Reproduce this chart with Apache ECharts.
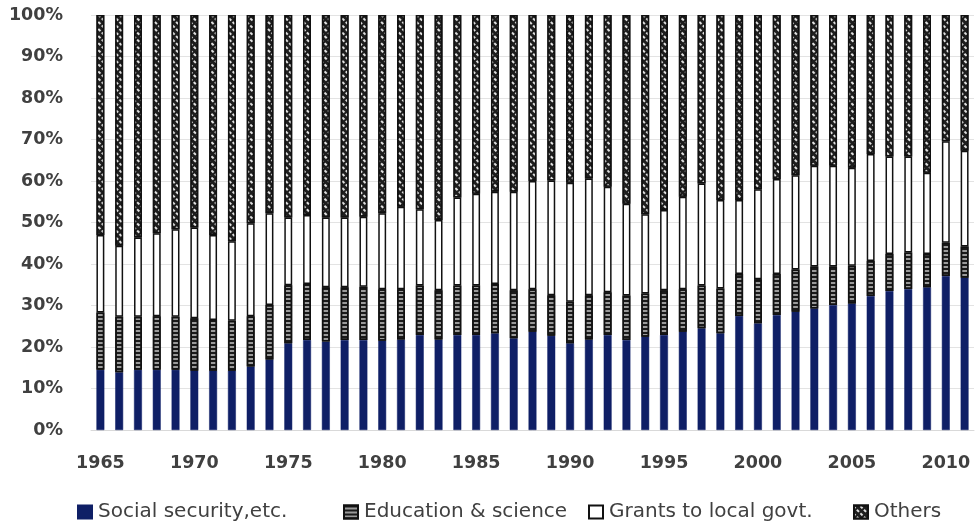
<!DOCTYPE html>
<html>
<head>
<meta charset="utf-8">
<script src="https://cdn.jsdelivr.net/npm/echarts@6/dist/echarts.min.js"></script>
<style>
  html, body { margin: 0; padding: 0; background: #fff; }
  #chart { width: 976px; height: 525px; }
</style>
</head>
<body>
<div id="chart"></div>
<script>
// Composition of general account expenditure, shares in percent (1965-2011)
const years = [];
for (let y = 1965; y <= 2011; y++) years.push(String(y));

const socialSecurity = [
  14.5, 13.9, 14.5, 14.5, 14.5, 14.3, 14.3, 14.3, 15.3, 17.0,
  20.9, 21.7, 21.3, 21.7, 21.7, 21.5, 21.8, 22.9, 21.8, 22.9,
  22.9, 23.3, 22.1, 23.7, 22.7, 20.9, 21.8, 22.9, 21.7, 22.5,
  22.9, 23.7, 24.5, 23.3, 27.5, 25.7, 27.7, 28.5, 29.3, 30.1,
  30.5, 32.3, 33.5, 34.0, 34.4, 37.1, 36.7
];
const education = [
  13.8, 13.4, 12.8, 12.9, 12.8, 12.6, 12.2, 12.0, 12.1, 13.1,
  14.0, 13.5, 13.1, 12.7, 12.8, 12.4, 12.1, 11.9, 11.9, 11.9,
  11.9, 11.9, 11.6, 10.2, 9.8, 10.0, 10.7, 10.3, 10.7, 10.4,
  10.8, 10.2, 10.3, 10.8, 10.1, 10.6, 9.9, 10.2, 10.1, 9.3,
  9.1, 8.4, 8.9, 8.8, 8.0, 8.0, 7.5
];
const grants = [
  18.7, 17.1, 19.1, 20.0, 21.1, 21.9, 20.5, 19.2, 22.4, 22.1,
  16.3, 16.6, 16.8, 16.8, 16.9, 18.3, 19.9, 18.4, 16.9, 21.2,
  22.1, 22.2, 23.7, 26.1, 27.6, 28.7, 28.1, 25.4, 22.1, 19.1,
  19.3, 22.3, 24.6, 21.3, 17.8, 21.7, 22.9, 22.7, 24.3, 24.3,
  23.6, 25.8, 23.5, 23.1, 19.6, 24.5, 23.1
];
const others = [
  53.0, 55.6, 53.6, 52.6, 51.6, 51.2, 53.0, 54.5, 50.2, 47.8,
  48.8, 48.2, 48.8, 48.8, 48.6, 47.8, 46.2, 46.8, 49.4, 44.0,
  43.1, 42.6, 42.6, 40.0, 39.9, 40.4, 39.4, 41.4, 45.5, 48.0,
  47.0, 43.8, 40.6, 44.6, 44.6, 42.0, 39.5, 38.6, 36.3, 36.3,
  36.8, 33.5, 34.1, 34.1, 38.0, 30.4, 32.7
];

const seriesNames = ['Social security,etc.', 'Education & science', 'Grants to local govt.', 'Others'];
const textColor = '#404040';
const barW = '42%';

// one legend block per entry so each sits at its own spot along the bottom
const legendLefts = [77, 343, 588, 853];
const legends = seriesNames.map((name, i) => ({
  data: [name],
  left: legendLefts[i],
  top: 502,
  padding: 0,
  itemWidth: 14,
  itemHeight: 13,
  icon: 'rect',
  selectedMode: false,
  textStyle: { color: textColor, fontFamily: 'DejaVu Sans', fontSize: 20, padding: [0, 0, 0, 1] }
}));

const chart = echarts.init(document.getElementById('chart'), null, { renderer: 'canvas' });

chart.setOption({
  animation: false,
  backgroundColor: '#ffffff',
  grid: { left: 91, right: 2, top: 15, bottom: 95, containLabel: false },
  legend: legends,
  xAxis: {
    type: 'category',
    data: years,
    axisLine: { show: true, lineStyle: { color: '#d9d9d9', width: 1 } },
    axisTick: { show: false },
    axisLabel: {
      interval: 4,
      margin: 24,
      color: textColor,
      fontFamily: 'DejaVu Sans',
      fontWeight: 'bold',
      fontSize: 17.5
    }
  },
  yAxis: {
    type: 'value',
    min: 0,
    max: 100,
    interval: 10,
    axisLine: { show: false },
    axisTick: { show: false },
    splitLine: { lineStyle: { color: '#e3e3e3', width: 1 } },
    axisLabel: {
      formatter: '{value}%',
      margin: 28,
      color: textColor,
      fontFamily: 'DejaVu Sans',
      fontWeight: 'bold',
      fontSize: 17.5
    }
  },
  series: [
    {
      name: seriesNames[0],
      type: 'bar',
      stack: 'total',
      barWidth: barW,
      data: socialSecurity,
      itemStyle: { color: '#0f1f66', borderColor: '#0f1f66', borderWidth: 0.5 }
    },
    {
      name: seriesNames[1],
      type: 'bar',
      stack: 'total',
      barWidth: barW,
      data: education,
      itemStyle: {
        color: '#9a9a9a',
        borderColor: '#111',
        borderWidth: 1.5,
        decal: {
          symbol: 'rect',
          symbolSize: 1,
          color: '#1a1a1a',
          dashArrayX: [1, 0],
          dashArrayY: [1.5, 1.5],
          rotation: 0
        }
      }
    },
    {
      name: seriesNames[2],
      type: 'bar',
      stack: 'total',
      barWidth: barW,
      data: grants,
      itemStyle: { color: '#ffffff', borderColor: '#111', borderWidth: 1.5 }
    },
    {
      name: seriesNames[3],
      type: 'bar',
      stack: 'total',
      barWidth: barW,
      data: others,
      itemStyle: {
        color: '#1e1e1e',
        borderColor: '#111',
        borderWidth: 1.5,
        decal: {
          symbol: 'rect',
          symbolSize: 1,
          color: '#e0e0e0',
          dashArrayX: [[2.5, 1.5]],
          dashArrayY: [1.5, 2.5],
          rotation: Math.PI / 4
        }
      }
    }
  ]
});
</script>
</body>
</html>
